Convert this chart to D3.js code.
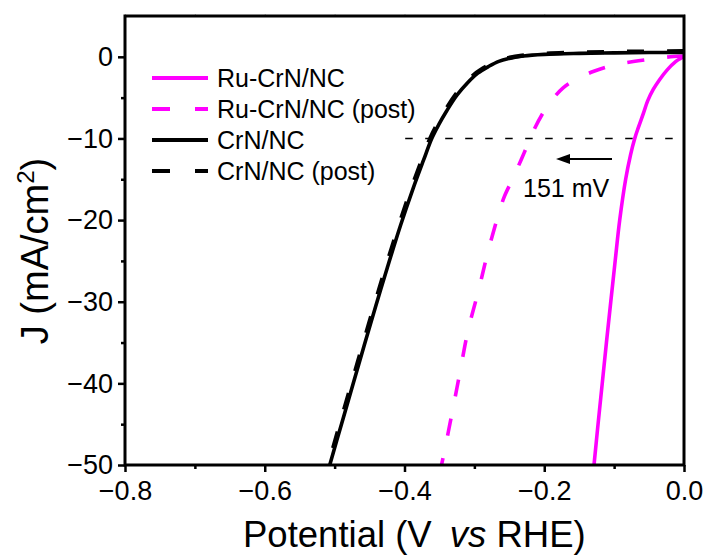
<!DOCTYPE html>
<html><head><meta charset="utf-8">
<script src="https://cdn.jsdelivr.net/npm/d3@7"></script>
<style>body{margin:0;background:#fff}svg{display:block}text{font-family:"Liberation Sans",Arial,sans-serif;fill:#000}</style>
</head><body><svg id="c" width="709" height="559"></svg>
<script>
// ---- data ----
const seriesNames = ["Ru-CrN/NC", "Ru-CrN/NC (post)", "CrN/NC", "CrN/NC (post)"];
const ruV  = [0, -0.005, -0.012, -0.024, -0.035, -0.044, -0.052, -0.058, -0.0655, -0.0705, -0.0765, -0.0835, -0.092, -0.0985, -0.1048, -0.111, -0.117, -0.123, -0.1288];
const ruJ  = [0.05, -0.2, -0.6, -1.6, -2.8, -4.0, -5.4, -6.9, -8.7, -10, -12, -15, -20, -25, -30, -35, -40, -45, -50];
const ruPostV = [0, -0.015, -0.04, -0.0725, -0.1, -0.13, -0.155, -0.173, -0.19, -0.202, -0.215, -0.225, -0.233, -0.245, -0.257, -0.2635, -0.28, -0.294, -0.309, -0.321, -0.333, -0.345, -0.347];
const ruPostJ = [0.1, 0.04, -0.2, -0.58, -1.0, -1.8, -2.8, -3.8, -5.4, -6.9, -9.0, -11.0, -12.6, -14.9, -17.1, -18.75, -23.7, -28.6, -33.5, -38.8, -44.1, -49.2, -50];
const crnV = [0, -0.05, -0.1, -0.15, -0.2, -0.23, -0.25, -0.265, -0.28, -0.295, -0.31, -0.325, -0.3395, -0.351, -0.361, -0.3725, -0.388, -0.4055, -0.4245, -0.441, -0.4578, -0.4733, -0.4902, -0.507];
const crnJ = [0.55, 0.52, 0.48, 0.42, 0.3, 0.1, -0.2, -0.55, -1.2, -2.0, -3.2, -4.7, -6.6, -8.3, -10.0, -12.6, -16.2, -20.6, -25.8, -30.5, -35.4, -40, -45, -50];
const crnPostV = [0, -0.05, -0.1, -0.15, -0.2, -0.232, -0.252, -0.267, -0.282, -0.297, -0.312, -0.327, -0.3415, -0.353, -0.363, -0.3745, -0.39, -0.4075, -0.4265, -0.443, -0.4598, -0.4753, -0.4922, -0.509];
const crnPostJ = [0.7, 0.66, 0.6, 0.52, 0.38, 0.15, -0.15, -0.5, -1.15, -1.95, -3.15, -4.65, -6.55, -8.25, -9.95, -12.5, -16.1, -20.5, -25.7, -30.4, -35.3, -39.9, -44.9, -50];
const xTicks = [-0.8, -0.6, -0.4, -0.2, 0.0];
const xMinor = [-0.7, -0.5, -0.3, -0.1];
const yTicks = [0, -10, -20, -30, -40, -50];
const yMinor = [-5, -15, -25, -35, -45];
const refJ = -10, refV0 = -0.399, refV1 = -0.016;
const annotation = "151 mV";

// ---- layout ----
const svg = d3.select("#c");
const L = 125, R = 684, T = 16, B = 465;
const x = d3.scaleLinear().domain([-0.8, 0]).range([L, R]);
const y = d3.scaleLinear().domain([-50, 5]).range([B, T]);
const mag = "#ff00ff";

svg.append("defs").append("clipPath").attr("id","clip")
  .append("rect").attr("x",L).attr("y",T).attr("width",R-L).attr("height",B-T);

const series = [
  {V: crnPostV, J: crnPostJ, color: "#000", dash: "17,23", w: 4.2},
  {V: ruPostV, J: ruPostJ, color: mag, dash: "17,23", w: 3.6},
  {V: ruV, J: ruJ, color: mag, dash: null, w: 3.6},
  {V: crnV, J: crnJ, color: "#000", dash: null, w: 3.6}
];
const line = d3.line().x(d => x(d[0])).y(d => y(d[1])).curve(d3.curveCatmullRom.alpha(0.5));
const g = svg.append("g").attr("clip-path","url(#clip)");
g.append("line").attr("x1",x(refV0)).attr("x2",x(refV1)).attr("y1",y(refJ)).attr("y2",y(refJ))
  .attr("stroke","#000").attr("stroke-width",1.6).attr("stroke-dasharray","7.5,12.5");
series.forEach(s => {
  g.append("path").datum(s.V.map((v,i)=>[v, s.J[i]]))
    .attr("d", line).attr("fill","none").attr("stroke", s.color)
    .attr("stroke-width", s.w).attr("stroke-dasharray", s.dash)
    .attr("stroke-linejoin","round");
});

// axes
const fontTick = 27;
const xa = svg.append("g").attr("transform",`translate(0,${B})`)
  .call(d3.axisBottom(x).tickValues(xTicks).tickSize(7).tickPadding(9).tickFormat(d3.format(".1f")));
const ya = svg.append("g").attr("transform",`translate(${L},0)`)
  .call(d3.axisLeft(y).tickValues(yTicks).tickSize(7).tickPadding(5).tickFormat(d3.format("d")));
[xa, ya].forEach(a => {
  a.select(".domain").remove();
  a.selectAll(".tick line").attr("stroke","#000").attr("stroke-width",2.5);
  a.selectAll(".tick text").attr("font-size",fontTick).attr("font-family","Liberation Sans, Arial, sans-serif").attr("fill","#000");
});
svg.append("g").attr("transform",`translate(0,${B})`)
  .call(d3.axisBottom(x).tickValues(xMinor).tickSize(4).tickFormat(""))
  .call(a => { a.select(".domain").remove(); a.selectAll("line").attr("stroke-width",2.5); });
svg.append("g").attr("transform",`translate(${L},0)`)
  .call(d3.axisLeft(y).tickValues(yMinor).tickSize(4).tickFormat(""))
  .call(a => { a.select(".domain").remove(); a.selectAll("line").attr("stroke-width",2.5); });
svg.append("g").attr("transform",`translate(0,${T})`)
  .call(d3.axisTop(x).tickValues(xTicks.concat(xMinor)).tickSize(2).tickFormat(""))
  .call(a => { a.select(".domain").remove(); a.selectAll("line").attr("stroke","#bbb").attr("stroke-width",1); });

// frame
svg.append("rect").attr("x",L).attr("y",T).attr("width",R-L).attr("height",B-T)
  .attr("fill","none").attr("stroke","#000").attr("stroke-width",3);

// axis titles
const xt = svg.append("text").attr("x",243).attr("y",547).attr("text-anchor","start").attr("font-size",36.5);
xt.append("tspan").text("Potential (V ");
xt.append("tspan").attr("dx",8).attr("font-style","italic").text("vs");
xt.append("tspan").text(" RHE)");
const yt = svg.append("text").attr("transform","translate(48,251) rotate(-90)").attr("text-anchor","middle").attr("font-size",38);
yt.append("tspan").text("J (mA/cm");
yt.append("tspan").attr("font-size",24).attr("dy",-14).text("2");
yt.append("tspan").attr("dy",14).text(")");

// legend
const legendY = [78, 109, 140, 171];
const legendStyle = [
  {color: mag, dash: null}, {color: mag, dash: "18,25"},
  {color: "#000", dash: null}, {color: "#000", dash: "18,25"}
];
seriesNames.forEach((n,i) => {
  svg.append("line").attr("x1",152).attr("x2",208).attr("y1",legendY[i]).attr("y2",legendY[i])
    .attr("stroke",legendStyle[i].color).attr("stroke-width",4).attr("stroke-dasharray",legendStyle[i].dash);
  svg.append("text").attr("x",217).attr("y",legendY[i]+9).attr("font-size",25).text(n);
});

// annotation arrow + text
const arrowY = 159, ax0 = 612, ax1 = 556;
svg.append("line").attr("x1",ax0).attr("x2",ax1+11).attr("y1",arrowY).attr("y2",arrowY).attr("stroke","#000").attr("stroke-width",1.8);
svg.append("path").attr("d",`M${ax1},${arrowY} L${ax1+14},${arrowY-5} L${ax1+14},${arrowY+5} Z`).attr("fill","#000");
svg.append("text").attr("x",523).attr("y",197).attr("font-size",25).text(annotation);
</script></body></html>
